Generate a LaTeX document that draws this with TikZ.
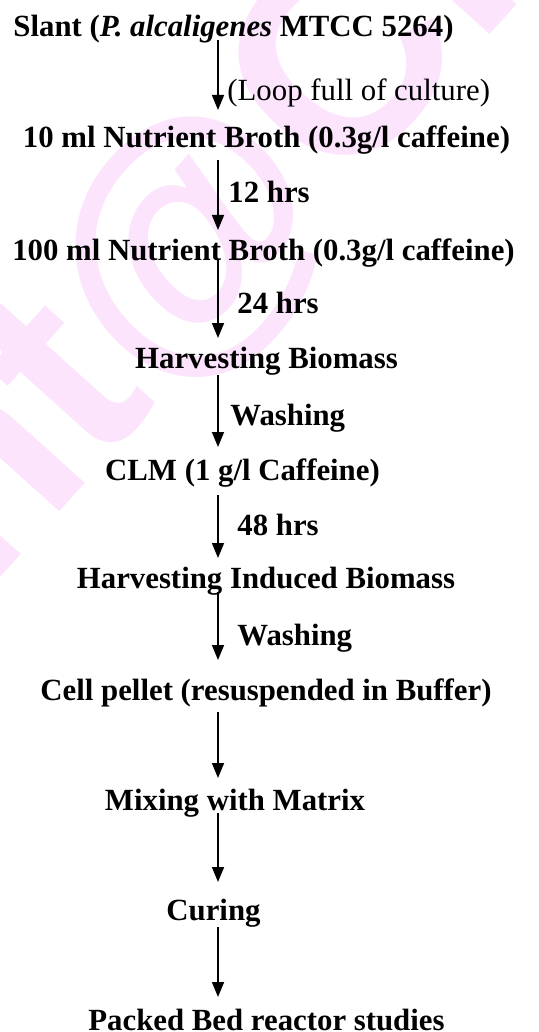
\documentclass[tikz,border=0pt]{standalone}
\usepackage{fontspec}
\setmainfont{Liberation Serif}
\newfontfamily\wmfont{Liberation Sans}
\usetikzlibrary{arrows.meta}
\definecolor{wmpink}{RGB}{252,228,252}
\begin{document}
\begin{tikzpicture}[x=0.5pt,y=-0.5pt,
  stepnode/.style={inner sep=0pt,anchor=base,font=\fontsize{15.4}{18}\selectfont\bfseries},
  lbl/.style={inner sep=0pt,anchor=base west,font=\fontsize{15.4}{18}\selectfont\bfseries},
  lblr/.style={inner sep=0pt,anchor=base west,font=\fontsize{15.4}{18}\selectfont},
  wm/.style={inner sep=0pt,anchor=base west,text=wmpink,rotate=48,font=\fontsize{140}{140}\selectfont\wmfont\bfseries},
  arr/.style={line width=0.8pt,-{Triangle[length=7.5pt,width=6pt]}}]
\useasboundingbox (0,0) rectangle (539,1032);
\begin{scope}
\clip (0,0) rectangle (539,1032);
\node[wm] (wmark) at (-18,598) {nt@CF};
\end{scope}
\coordinate (axis) at (218,0);
\node[stepnode] (slant) at (233.5,37) {Slant (\textit{P. alcaligenes} MTCC 5264)};
\node[lblr] (l1) at (227,101) {(Loop full of culture)};
\node[stepnode] (nb10) at (266.5,148) {10 ml Nutrient Broth (0.3g/l caffeine)};
\node[lbl] (l2) at (228,203) {12 hrs};
\node[stepnode] (nb100) at (263.5,260) {100 ml Nutrient Broth (0.3g/l caffeine)};
\node[lbl] (l3) at (237,313) {24 hrs};
\node[stepnode] (hb) at (266.5,368) {Harvesting Biomass};
\node[lbl] (l4) at (230,425) {Washing};
\node[stepnode] (clm) at (242.5,480) {CLM (1 g/l Caffeine)};
\node[lbl] (l5) at (237,535) {48 hrs};
\node[stepnode] (hib) at (266,588) {Harvesting Induced Biomass};
\node[lbl] (l6) at (237,645) {Washing};
\node[stepnode] (cp) at (266,700) {Cell pellet (resuspended in Buffer)};
\node[stepnode] (mix) at (235,810) {Mixing with Matrix};
\node[stepnode] (cur) at (213.5,920) {Curing};
\node[stepnode] (pbr) at (266.5,1030) {Packed Bed reactor studies};
\draw[arr] ([yshift=-1.5pt]slant.base -| axis) -- ([yshift=19pt]nb10.base -| axis);
\draw[arr] ([yshift=-6pt]nb10.base -| axis) -- ([yshift=15pt]nb100.base -| axis);
\draw[arr] ([yshift=0pt]nb100.base -| axis) -- ([yshift=15pt]hb.base -| axis);
\draw[arr] ([yshift=-3.5pt]hb.base -| axis) -- ([yshift=16.5pt]clm.base -| axis);
\draw[arr] ([yshift=-7.5pt]clm.base -| axis) -- ([yshift=15pt]hib.base -| axis);
\draw[arr] ([yshift=-2pt]hib.base -| axis) -- ([yshift=20pt]cp.base -| axis);
\draw[arr] ([yshift=-6pt]cp.base -| axis) -- ([yshift=16pt]mix.base -| axis);
\draw[arr] ([yshift=-1.5pt]mix.base -| axis) -- ([yshift=19pt]cur.base -| axis);
\draw[arr] ([yshift=-3.5pt]cur.base -| axis) -- ([yshift=16.5pt]pbr.base -| axis);
\end{tikzpicture}
\end{document}
